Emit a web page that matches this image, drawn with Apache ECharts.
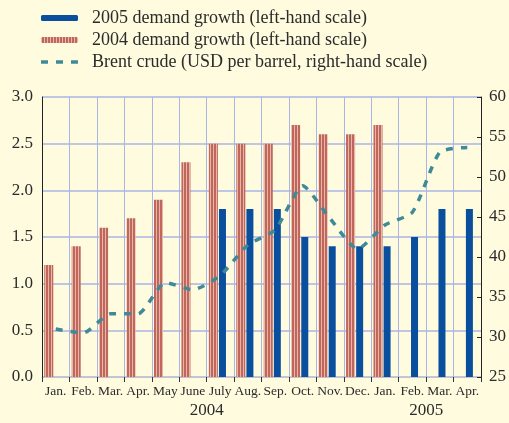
<!DOCTYPE html>
<html>
<head>
<meta charset="utf-8">
<script src="https://cdn.jsdelivr.net/npm/echarts@6/dist/echarts.min.js"></script>
<style>
html, body { margin: 0; padding: 0; background: #fefbdf; }
#chart { width: 509px; height: 423px; }
</style>
</head>
<body>
<div id="chart"></div>
<script>
// month labels, Jan 2004 .. Apr 2005
const months = ['Jan.', 'Feb.', 'Mar.', 'Apr.', 'May', 'June', 'July', 'Aug.', 'Sep.', 'Oct.', 'Nov.', 'Dec.', 'Jan.', 'Feb.', 'Mar.', 'Apr.'];
const demand2004 = [1.2, 1.4, 1.6, 1.7, 1.9, 2.3, 2.5, 2.5, 2.5, 2.7, 2.6, 2.6, 2.7, null, null, null];
const demand2005 = [null, null, null, null, null, null, 1.8, 1.8, 1.8, 1.5, 1.4, 1.4, 1.4, 1.5, 1.8, 1.8];
const brent = [31.0, 30.5, 32.9, 32.9, 36.8, 35.9, 37.7, 41.5, 43.4, 48.9, 44.8, 41.0, 44.0, 45.6, 53.1, 53.7];
const years = [{ label: '2004', from: 0, to: 11 }, { label: '2005', from: 12, to: 15 }];

const FONT = 'Liberation Serif';
const TXT = '#2b2b2b';

// vertical stripes for the 2004 bars
function stripes() {
    const c = document.createElement('canvas');
    c.width = 3;
    c.height = 4;
    const ctx = c.getContext('2d');
    ctx.fillStyle = '#e6b6aa';
    ctx.fillRect(0, 0, 3, 4);
    ctx.fillStyle = '#c0665b';
    ctx.fillRect(1, 0, 2, 4);
    return c;
}

// three short dashes for the Brent legend key (tiny corner dots keep the box 6px tall)
const dashIcon = 'path://M0,0h0.01v0.01h-0.01zM0,6h0.01v0.01h-0.01z' +
    'M0,1.2h7v3.6h-7zM15,1.2h7v3.6h-7zM30,1.2h7v3.6h-7z';

const chart = echarts.init(document.getElementById('chart'));
chart.setOption({
    backgroundColor: '#fefbdf',
    animation: false,
    textStyle: { fontFamily: FONT, color: TXT },
    legend: {
        orient: 'vertical',
        left: 41,
        top: 9,
        padding: 0,
        itemWidth: 37,
        itemHeight: 6,
        itemGap: 4,
        data: [
            '2005 demand growth (left-hand scale)',
            '2004 demand growth (left-hand scale)',
            { name: 'Brent crude (USD per barrel, right-hand scale)', icon: dashIcon }
        ],
        textStyle: { fontFamily: FONT, fontSize: 18, color: TXT, padding: [0, 0, 0, 9] }
    },
    grid: { left: 42, right: 28, top: 97, bottom: 46 },
    xAxis: {
        type: 'category',
        data: months,
        axisLine: { lineStyle: { color: '#c4c4c4', width: 1 } },
        axisTick: { show: true, length: 5, lineStyle: { color: '#333' } },
        axisLabel: { fontFamily: FONT, fontSize: 13.5, color: TXT, margin: 7, interval: 0 },
        splitLine: { show: true, interval: 0, lineStyle: { color: '#a9b5e4', width: 1 } }
    },
    yAxis: [{
        type: 'value',
        min: 0,
        max: 3,
        interval: 0.5,
        axisLine: { show: true, lineStyle: { color: '#222' } },
        axisTick: { show: false },
        axisLabel: { fontFamily: FONT, fontSize: 17, color: TXT, margin: 9, formatter: v => v.toFixed(1) },
        splitLine: { lineStyle: { color: '#a9b5e4', width: 1.5 } }
    }, {
        type: 'value',
        min: 25,
        max: 60,
        interval: 5,
        position: 'right',
        axisLine: { show: true, lineStyle: { color: '#222' } },
        axisTick: { show: true, inside: true, length: 4, lineStyle: { color: '#222' } },
        axisLabel: { fontFamily: FONT, fontSize: 17, color: TXT, margin: 8 },
        splitLine: { show: false }
    }],
    series: [{
        name: '2004 demand growth (left-hand scale)',
        type: 'bar',
        data: demand2004,
        barWidth: 9,
        barGap: '12%',
        itemStyle: { color: { image: stripes(), repeat: 'repeat' } }
    }, {
        name: '2005 demand growth (left-hand scale)',
        type: 'bar',
        data: demand2005,
        barWidth: 7,
        barGap: '12%',
        itemStyle: { color: '#0a4f9e' }
    }, {
        // empty spacer so the bar pair sits left of the category centre
        name: 'spacer',
        type: 'bar',
        data: [],
        barWidth: 5,
        barGap: '12%'
    }, {
        name: 'Brent crude (USD per barrel, right-hand scale)',
        type: 'line',
        yAxisIndex: 1,
        data: brent,
        smooth: 0.2,
        showSymbol: false,
        symbol: 'none',
        z: 5,
        lineStyle: { color: '#408a98', width: 3.5, type: [7, 8] },
        itemStyle: { color: '#408a98' }
    }]
});

// year captions centred under their months
const yearText = years.map(y => {
    const a = chart.convertToPixel({ xAxisIndex: 0 }, y.from);
    const b = chart.convertToPixel({ xAxisIndex: 0 }, y.to);
    return {
        type: 'text',
        x: (a + b) / 2,
        y: 411,
        style: { text: y.label, font: '17px "Liberation Serif"', fill: TXT, align: 'center', verticalAlign: 'middle' }
    };
});
chart.setOption({ graphic: yearText });
</script>
</body>
</html>
